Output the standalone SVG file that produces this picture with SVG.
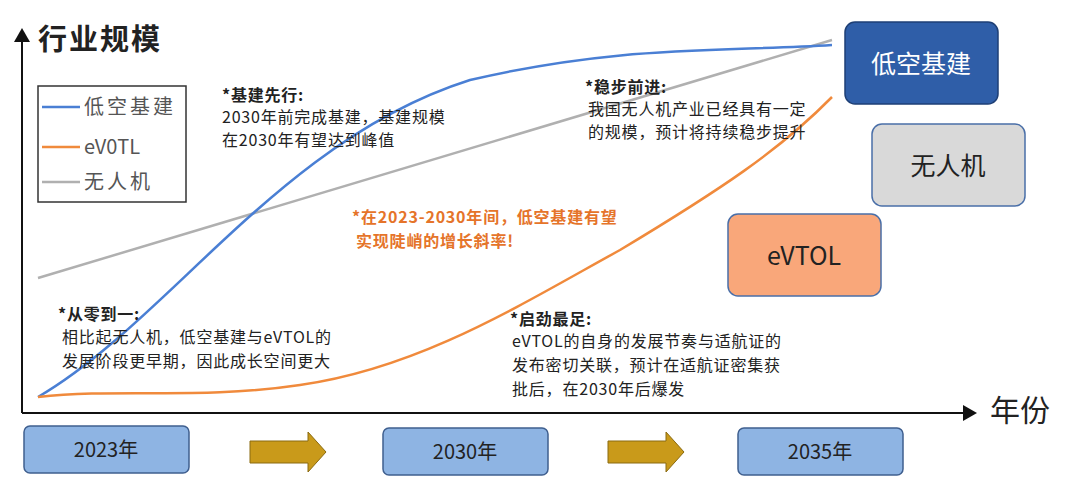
<svg xmlns="http://www.w3.org/2000/svg" width="1080" height="484" viewBox="0 0 1080 484">
<style>
text{font-family:"Noto Sans CJK SC","Noto Sans",sans-serif;fill:#222}
.n{font-size:16px;letter-spacing:0.8px}
.yr{fill:#8eb4e3;stroke:#3f5f8f;stroke-width:1.5}
.yt{font-size:20px;text-anchor:middle}
</style>
<defs>
<marker id="a" markerWidth="8" markerHeight="8" refX="6" refY="4" orient="auto"><path d="M0,0 L7,4 L0,8 z" fill="#111"/></marker>
</defs>
<rect width="1080" height="484" fill="#fff"/>
<g id="connectors">
<line x1="22" y1="413" x2="22" y2="30" stroke="#111" stroke-width="2" marker-end="url(#a)"/>
<line x1="22" y1="413" x2="975" y2="413" stroke="#111" stroke-width="2" marker-end="url(#a)"/>
<line x1="38" y1="278" x2="832" y2="40" stroke="#b0b0b0" stroke-width="2.5"/>
<path d="M38,397 C170,320 280,140 470,80 C620,45 720,52 832,45" fill="none" stroke="#4a7fd4" stroke-width="2.5"/>
<path d="M38,397 C120,388 200,400 300,385 C420,368 520,305 620,250 C720,190 780,150 832,97" fill="none" stroke="#f08a3c" stroke-width="2.5"/>
<path d="M250,441 H308 V432 L326,452 L308,472 V463 H250 Z" fill="#c99a1a" stroke="#8a6a10"/>
<path d="M608,441 H666 V432 L684,452 L666,472 V463 H608 Z" fill="#c99a1a" stroke="#8a6a10"/>
</g>
<text x="38" y="50" font-size="29" font-weight="bold" letter-spacing="2">行业规模</text>
<text x="990" y="421" font-size="30">年份</text>
<g id="legend">
<rect x="38" y="86" width="148" height="116" fill="#fff" stroke="#333" stroke-width="1.5"/>
<line x1="42" y1="107" x2="80" y2="107" stroke="#4a7fd4" stroke-width="2.5"/>
<line x1="42" y1="147" x2="80" y2="147" stroke="#f08a3c" stroke-width="2.5"/>
<line x1="42" y1="182" x2="80" y2="182" stroke="#b0b0b0" stroke-width="2.5"/>
<text x="84" y="114" font-size="20" letter-spacing="3" style="fill:#555">低空基建</text>
<text x="84" y="154" font-size="20" style="fill:#555">eV0TL</text>
<text x="84" y="189" font-size="20" letter-spacing="3" style="fill:#555">无人机</text>
</g>
<g id="n1"><text class="n" x="222" y="101" font-weight="bold">*基建先行:</text><text class="n" x="222" y="123">2030年前完成基建，基建规模</text><text class="n" x="222" y="146">在2030年有望达到峰值</text></g>
<g id="n2"><text class="n" x="585" y="93" font-weight="bold">*稳步前进:</text><text class="n" x="588" y="115">我国无人机产业已经具有一定</text><text class="n" x="588" y="138">的规模，预计将持续稳步提升</text></g>
<g id="n3"><text class="n" x="352" y="223" font-weight="bold" style="fill:#e5742a">*在2023-2030年间，低空基建有望</text><text class="n" x="356" y="247" font-weight="bold" style="fill:#e5742a">实现陡峭的增长斜率!</text></g>
<g id="n4"><text class="n" x="58" y="320" font-weight="bold">*从零到一:</text><text class="n" x="62" y="343">相比起无人机，低空基建与eVTOL的</text><text class="n" x="62" y="367">发展阶段更早期，因此成长空间更大</text></g>
<g id="n5"><text class="n" x="510" y="325" font-weight="bold">*启劲最足:</text><text class="n" x="512" y="347">eVTOL的自身的发展节奏与适航证的</text><text class="n" x="512" y="371">发布密切关联，预计在适航证密集获</text><text class="n" x="512" y="395">批后，在2030年后爆发</text></g>
<g id="b1"><rect x="845" y="22" width="153" height="82" rx="10" fill="#2f5ea8" stroke="#1e3f75" stroke-width="1.5"/><text x="921" y="73" font-size="25" text-anchor="middle" style="fill:#fff">低空基建</text></g>
<g id="b2"><rect x="872" y="124" width="153" height="82" rx="10" fill="#d9d9d9" stroke="#4a6fa8" stroke-width="1.5"/><text x="948" y="175" font-size="25" text-anchor="middle">无人机</text></g>
<g id="b3"><rect x="728" y="214" width="153" height="82" rx="10" fill="#f9a77a" stroke="#4a6fa8" stroke-width="1.5"/><text x="804" y="265" font-size="25" text-anchor="middle">eVTOL</text></g>
<g id="y1"><rect class="yr" x="24" y="426" width="165" height="47" rx="6"/><text class="yt" x="106" y="457">2023年</text></g>
<g id="y2"><rect class="yr" x="383" y="428" width="165" height="47" rx="6"/><text class="yt" x="465" y="459">2030年</text></g>
<g id="y3"><rect class="yr" x="738" y="428" width="165" height="47" rx="6"/><text class="yt" x="820" y="459">2035年</text></g>
</svg>
